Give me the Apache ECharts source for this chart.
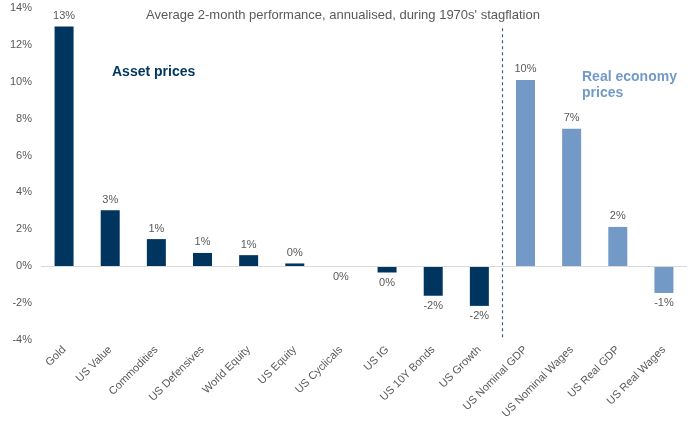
<!DOCTYPE html>
<html>
<head>
<meta charset="utf-8">
<script src="https://cdn.jsdelivr.net/npm/echarts@6/dist/echarts.min.js"></script>
<style>html,body{margin:0;padding:0;background:#fff}#c{width:700px;height:436px}</style>
</head>
<body>
<div id="c"></div>
<script>
var assetCategories = ['Gold','US Value','Commodities','US Defensives','World Equity','US Equity','US Cyclicals','US IG','US 10Y Bonds','US Growth'];
var assetValues = [13.0, 3.03, 1.47, 0.72, 0.6, 0.15, -0.02, -0.34, -1.6, -2.15];
var economyCategories = ['US Nominal GDP','US Nominal Wages','US Real GDP','US Real Wages'];
var economyValues = [10.1, 7.45, 2.13, -1.45];
var yTicks = {min: -4, max: 14, interval: 2};
var titleText = "Average 2-month performance, annualised, during 1970s' stagflation";

var categories = assetCategories.concat(economyCategories);
var dividerX = assetCategories.length - 0.5;
var ASSET = '#00355F', ECON = '#7399C6', GREY = '#595959';
function item(v, color) {
  return {value: v, itemStyle: {color: color}, label: {position: v < 0 ? 'bottom' : 'top'}};
}
var data = assetValues.map(function(v){return item(v, ASSET);})
  .concat(economyValues.map(function(v){return item(v, ECON);}));

var chart = echarts.init(document.getElementById('c'));
chart.setOption({
  animation: false,
  textStyle: {fontFamily: 'Liberation Sans, Arial, sans-serif'},
  grid: {left: 41, right: 13, top: 8, bottom: 96},
  xAxis: [{
    type: 'category', data: categories,
    axisLine: {show: false}, axisTick: {show: false},
    axisLabel: {rotate: 45, interval: 0, color: GREY, fontSize: 11, margin: 8}
  }, {
    type: 'value', min: -0.5, max: categories.length - 0.5, show: false
  }],
  yAxis: {
    type: 'value', min: yTicks.min, max: yTicks.max, interval: yTicks.interval,
    axisLine: {show: false}, axisTick: {show: false}, splitLine: {show: false},
    axisLabel: {formatter: '{value}%', color: GREY, fontSize: 11, margin: 9}
  },
  graphic: [
    {type: 'text', left: 146, top: 9, style: {text: titleText, fill: GREY, font: '13px "Liberation Sans", Arial, sans-serif'}},
    {type: 'text', left: 112, top: 65, style: {text: 'Asset prices', fill: ASSET, font: 'bold 14px "Liberation Sans", Arial, sans-serif'}},
    {type: 'text', left: 582, top: 69, style: {text: 'Real economy\nprices', fill: ECON, lineHeight: 16, font: 'bold 14px "Liberation Sans", Arial, sans-serif'}}
  ],
  series: [{
    type: 'bar', data: data, barWidth: 19,
    label: {show: true, color: GREY, fontSize: 11, distance: 5,
      formatter: function(p){ return Math.round(p.value) + '%'; }},
    markLine: {
      silent: true, symbol: 'none', label: {show: false}, animation: false,
      data: [{yAxis: 0, lineStyle: {color: '#D9D9D9', type: 'solid', width: 1}}]
    },
    z: 3
  }, {
    type: 'scatter', xAxisIndex: 1, yAxisIndex: 0, symbolSize: 0,
    data: [[dividerX, 0]], silent: true,
    markLine: {
      silent: true, symbol: 'none', label: {show: false}, animation: false,
      lineStyle: {color: '#44607E', type: [3, 3], width: 1.2},
      data: [[{coord: [dividerX, 12.9]}, {coord: [dividerX, yTicks.min]}]]
    }
  }]
});
</script>
</body>
</html>
